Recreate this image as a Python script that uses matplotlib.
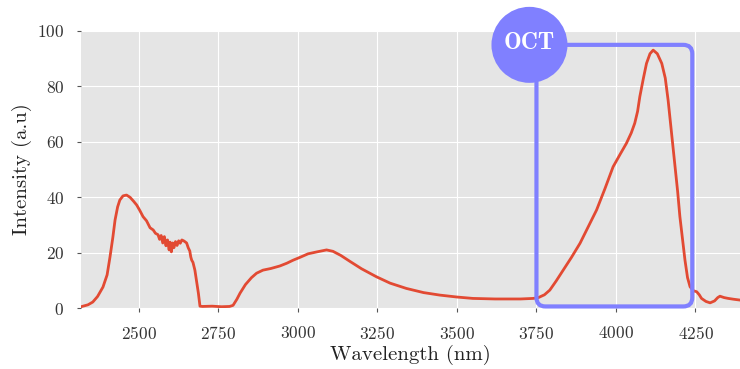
import matplotlib
matplotlib.use("Agg")
import matplotlib.pyplot as plt
from matplotlib.patches import FancyBboxPatch, Ellipse

# spectrum
wavelength = [2318, 2340, 2355, 2370, 2387, 2400, 2409, 2418, 2425, 2433, 2440, 2450, 2461,
              2472, 2483, 2493, 2503, 2513, 2524, 2535, 2545, 2552, 2560, 2565, 2570, 2575,
              2580, 2585, 2590, 2595, 2598, 2602, 2606, 2610, 2615, 2620, 2625, 2630, 2635,
              2642, 2650, 2655, 2660, 2663, 2666, 2670, 2676, 2681, 2687, 2692, 2700, 2730,
              2760, 2785, 2796, 2808, 2818, 2835, 2854, 2870, 2890, 2915, 2943, 2965, 2985,
              3006, 3032, 3060, 3090, 3110, 3135, 3163, 3200, 3247, 3290, 3341, 3395, 3446,
              3500, 3550, 3620, 3700, 3740, 3756, 3775, 3792, 3812, 3834, 3860, 3887, 3912,
              3939, 3965, 3991, 4013, 4033, 4048, 4059, 4068, 4075, 4086, 4096, 4107, 4117,
              4130, 4144, 4155, 4164, 4175, 4186, 4194, 4201, 4210, 4217, 4225, 4233, 4243,
              4254, 4262, 4269, 4283, 4296, 4310, 4320, 4327, 4340, 4353, 4370, 4390]
intensity = [0.5, 1.2, 2.2, 4.2, 7.6, 12.0, 18.4, 25.5, 31.8, 36.5, 39.0, 40.5, 40.8,
             40.0, 38.6, 37.2, 35.2, 33.0, 31.5, 29.0, 28.2, 27.0, 26.5, 24.8, 26.2, 23.5,
             25.8, 22.5, 24.6, 21.0, 23.8, 20.3, 23.5, 21.8, 24.0, 22.6, 24.3, 23.4, 24.6,
             24.2, 23.5, 21.8, 20.6, 18.5, 17.3, 16.5, 13.7, 10.0, 5.4, 0.7, 0.6, 0.7,
             0.5, 0.6, 1.0, 3.2, 5.4, 8.5, 11.0, 12.6, 13.7, 14.3, 15.2, 16.2, 17.3,
             18.3, 19.6, 20.3, 21.0, 20.5, 19.0, 16.9, 14.2, 11.3, 9.0, 7.1, 5.6, 4.7,
             4.0, 3.5, 3.3, 3.3, 3.5, 3.8, 4.8, 6.5, 9.8, 13.7, 18.3, 23.4, 29.2,
             35.4, 43.0, 51.0, 55.5, 59.5, 63.2, 66.7, 71.0, 76.3, 82.8, 88.3, 91.8, 93.1,
             91.8, 88.3, 83.0, 75.0, 63.0, 51.0, 42.0, 33.0, 24.0, 17.3, 11.0, 7.7, 6.3,
             5.9, 4.8, 3.5, 2.4, 1.9, 2.6, 3.8, 4.3, 3.8, 3.5, 3.2, 2.9]

# OCT window
oct_range = [3750, 4240]
oct_levels = [0.6, 95]

plt.rcParams["font.family"] = "cmr10"
plt.rcParams["mathtext.fontset"] = "cm"
plt.rcParams["axes.formatter.use_mathtext"] = True

fig = plt.figure(figsize=(7.4, 3.69), dpi=100)
ax = fig.add_axes([0.1095, 0.165, 0.8905, 0.751])
ax.set_facecolor("#E5E5E5")
for s in ax.spines.values():
    s.set_visible(False)
ax.grid(True, color="white", linewidth=0.8)
ax.set_axisbelow(True)

ax.plot(wavelength, intensity, color="#E24A33", linewidth=2.0, zorder=3)

ax.set_xlim(2318, 4390)
ax.set_ylim(0, 100)
ax.set_xticks([2500, 2750, 3000, 3250, 3500, 3750, 4000, 4250])
ax.set_yticks([0, 20, 40, 60, 80, 100])
ax.tick_params(direction="out", length=3, color="#555555", labelsize=12.5,
               labelcolor="#333333")
ax.tick_params(axis="x", pad=9)
ax.tick_params(axis="y", pad=9)
ax.set_xlabel("Wavelength (nm)", fontsize=15, color="#222222", labelpad=2)
ax.set_ylabel("Intensity (a.u)", fontsize=15, color="#222222", labelpad=4)

# rounded box around the OCT band
px_x = (ax.get_xlim()[1] - ax.get_xlim()[0]) / (0.8905 * 740)
px_y = 100 / (0.751 * 369)
box = FancyBboxPatch((oct_range[0], oct_levels[0]), oct_range[1] - oct_range[0],
                     oct_levels[1] - oct_levels[0],
                     boxstyle="round,pad=0,rounding_size=%f" % (9 * px_x),
                     mutation_aspect=px_y / px_x,
                     facecolor="none", edgecolor="#8080FF", linewidth=3, zorder=4,
                     clip_on=False)
ax.add_patch(box)

circ = Ellipse((3728, 95), 2 * 38 * px_x, 2 * 38 * px_y, facecolor="#8080FF",
               edgecolor="none", zorder=5, clip_on=False)
ax.add_patch(circ)
ax.text(3728, 95.5, "OCT", color="white", fontsize=17,
        ha="center", va="center", zorder=6, family="cmb10")

fig.savefig("out.png", dpi=100)
